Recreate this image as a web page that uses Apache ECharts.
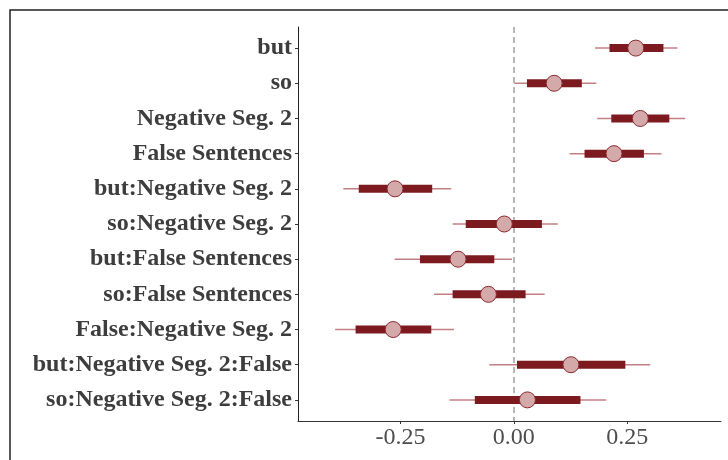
<!DOCTYPE html>
<html>
<head>
<meta charset="utf-8">
<script src="https://cdn.jsdelivr.net/npm/echarts@6/dist/echarts.min.js"></script>
<style>html,body{margin:0;padding:0;background:#fff;}#c{width:728px;height:460px;}</style>
</head>
<body>
<div id="c"></div>
<script>
const categories = ["but","so","Negative Seg. 2","False Sentences","but:Negative Seg. 2","so:Negative Seg. 2","but:False Sentences","so:False Sentences","False:Negative Seg. 2","but:Negative Seg. 2:False","so:Negative Seg. 2:False"];
const estimate = [0.269,0.089,0.279,0.221,-0.262,-0.021,-0.123,-0.056,-0.266,0.126,0.030];
const outerLow = [0.179,0.001,0.184,0.123,-0.376,-0.135,-0.263,-0.176,-0.394,-0.054,-0.142];
const outerHigh = [0.361,0.182,0.378,0.326,-0.138,0.097,-0.004,0.068,-0.132,0.301,0.204];
const innerLow = [0.211,0.029,0.215,0.156,-0.342,-0.106,-0.207,-0.135,-0.349,0.007,-0.086];
const innerHigh = [0.330,0.150,0.343,0.287,-0.180,0.062,-0.043,0.026,-0.182,0.246,0.147];
const xTicks = [-0.25,0,0.25];

const rows = categories.map((c,i)=>[i, outerLow[i], outerHigh[i], innerLow[i], innerHigh[i], estimate[i]]);
const yIdx = categories.map((c,i)=>i);

const chart = echarts.init(document.getElementById('c'), null, {renderer:'canvas'});
chart.setOption({
  animation:false,
  backgroundColor:'#fff',
  graphic:[{type:'rect', shape:{x:10,y:10,width:740,height:470}, style:{fill:null, stroke:'#222', lineWidth:1.5}, z:-1}],
  grid:{left:298, right:7, top:27, bottom:39},
  xAxis:{type:'value', min:-0.476, max:0.457,
    axisLine:{show:true, onZero:false, lineStyle:{color:'#333', width:1}},
    axisTick:{show:true, length:3, customValues:xTicks, lineStyle:{color:'#333'}},
    axisLabel:{customValues:xTicks, margin:5, formatter:v=>v.toFixed(2), fontFamily:'Liberation Serif', fontSize:24, color:'#4d4d4d'},
    splitLine:{show:false}},
  yAxis:{type:'value', inverse:true, min:-0.6, max:10.6,
    axisLine:{show:true, onZero:false, lineStyle:{color:'#222', width:1}},
    axisTick:{show:true, length:3, customValues:yIdx, lineStyle:{color:'#333'}},
    axisLabel:{customValues:yIdx, margin:6, formatter:v=>categories[Math.round(v)], fontFamily:'Liberation Serif', fontWeight:'bold', fontSize:24, color:'#3d3d3d'},
    splitLine:{show:false}},
  series:[{
    type:'custom',
    data:rows,
    encode:{x:[1,2,3,4,5], y:0},
    renderItem:function(params, api){
      const y = api.value(0);
      const p1 = api.coord([api.value(1), y]);
      const p2 = api.coord([api.value(2), y]);
      const q1 = api.coord([api.value(3), y]);
      const q2 = api.coord([api.value(4), y]);
      const e = api.coord([api.value(5), y]);
      return {type:'group', children:[
        {type:'line', shape:{x1:p1[0], y1:p1[1], x2:p2[0], y2:p2[1]}, style:{stroke:'#c47f83', lineWidth:1.5}},
        {type:'rect', shape:{x:q1[0], y:q1[1]-4, width:q2[0]-q1[0], height:8}, style:{fill:'#7d1a1f'}},
        {type:'circle', shape:{cx:e[0], cy:e[1], r:8}, style:{fill:'#d4a9aa', stroke:'#8d2a30', lineWidth:1}}
      ]};
    },
    markLine:{silent:true, symbol:'none', label:{show:false},
      lineStyle:{color:'#a0a0a0', type:[6,4], width:1.5},
      data:[{xAxis:0}], z:1}
  }]
});
</script>
</body>
</html>
